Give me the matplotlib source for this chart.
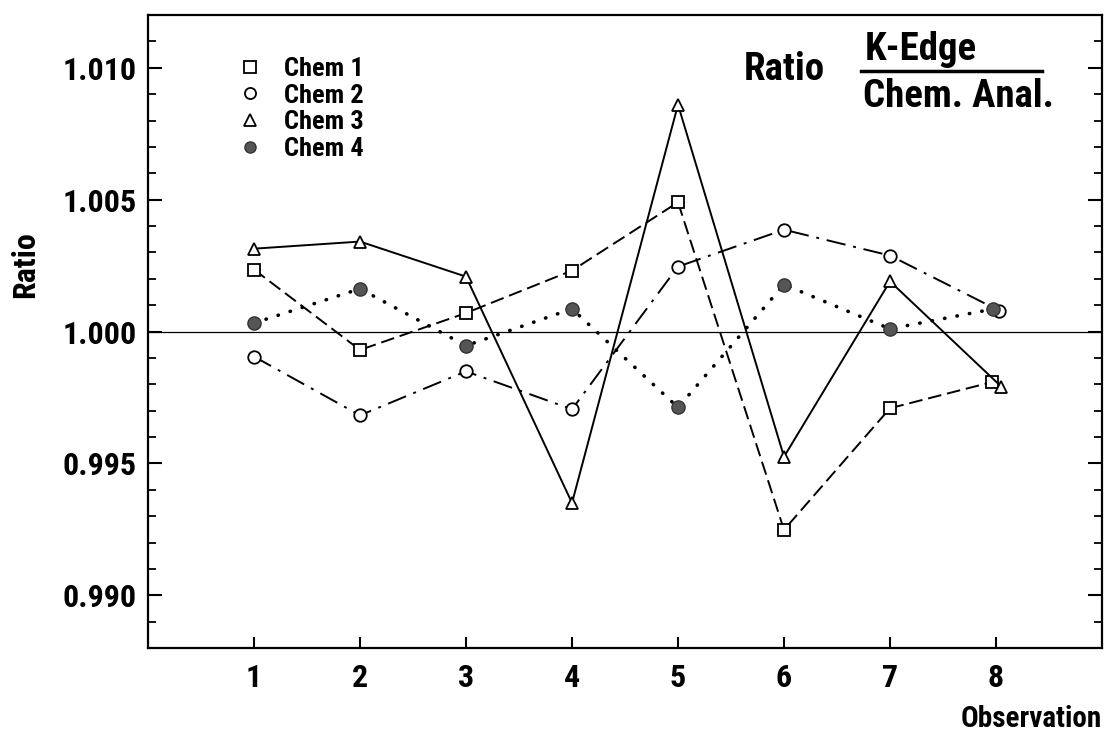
import matplotlib
matplotlib.use("Agg")
import matplotlib.pyplot as plt
import numpy as np
from matplotlib.lines import Line2D
from matplotlib import font_manager as fm

# observation numbers (point 8 is slightly staggered in the original)
obs = [1, 2, 3, 4, 5, 6, 7, 8]
obs_chem1 = [1, 2, 3, 4, 5, 6, 7, 7.96]
obs_chem2 = [1, 2, 3, 4, 5, 6, 7, 8.03]
obs_chem3 = [1, 2, 3, 4, 5, 6, 7, 8.05]
obs_chem4 = [1, 2, 3, 4, 5, 6, 7, 7.97]

# K-edge / chemical analysis ratios
chem1 = [1.00235, 0.99930, 1.00070, 1.00231, 1.00490, 0.99248, 0.99709, 0.99808]
chem2 = [0.99905, 0.99682, 0.99849, 0.99705, 1.00246, 1.00386, 1.00288, 1.00079]
chem3 = [1.00314, 1.00341, 1.00208, 0.99350, 1.00860, 0.99525, 1.00190, 0.99791]
chem4 = [1.00032, 1.00162, 0.99946, 1.00086, 0.99712, 1.00178, 1.00010, 1.00085]

labels = ["Chem 1", "Chem 2", "Chem 3", "Chem 4"]
yticks = [0.990, 0.995, 1.000, 1.005, 1.010]

W, H = 1105, 731
installed = {f.name for f in fm.fontManager.ttflist}
FONT = [f for f in ["Roboto Condensed", "Oswald", "Liberation Sans", "DejaVu Sans"] if f in installed]
plt.rcParams["font.family"] = FONT
plt.rcParams["font.weight"] = "bold"

fig = plt.figure(figsize=(W / 100, H / 100), dpi=100)
ax = fig.add_axes([148 / W, 1 - 648 / H, (1102 - 148) / W, (648 - 15) / H])

ax.axhline(1.0, color="black", lw=0.9, zorder=1)

mk = dict(markersize=9, markeredgecolor="black", markeredgewidth=1.3)
ax.plot(obs_chem1, chem1, color="black", lw=1.4, ls=(0, (7, 3)),
        marker="s", markerfacecolor="white", zorder=3, **mk)
ax.plot(obs_chem2, chem2, color="black", lw=1.4, ls=(0, (10, 4, 1.5, 4)),
        marker="o", markerfacecolor="white", zorder=3, **mk)
ax.plot(obs_chem3, chem3, color="black", lw=1.4, ls="-",
        marker="^", markerfacecolor="white", zorder=3, **mk)
ax.plot(obs_chem4, chem4, color="black", lw=2.6, ls=(0, (0.1, 3.4)),
        dash_capstyle="round", marker="o", markerfacecolor="#555555",
        markersize=9.5, markeredgecolor="#333333", markeredgewidth=1.0, zorder=3)

ax.set_xlim(0, 9)
ax.set_ylim(0.988, 1.012)
ax.set_xticks(obs)
ax.set_xticklabels([str(o) for o in obs])
ax.set_yticks(yticks)
ax.set_yticklabels([f"{v:.3f}" for v in yticks])
ax.set_yticks(np.arange(0.989, 1.0115, 0.001), minor=True)

ax.tick_params(axis="y", which="both", direction="in", left=True, right=True)
ax.tick_params(axis="y", which="major", length=10, width=1.5, pad=8, labelsize=23)
ax.tick_params(axis="y", which="minor", length=6, width=1.3)
ax.tick_params(axis="x", which="major", direction="in", length=8, width=1.5,
               pad=11, labelsize=23, top=False)
for lab in ax.get_xticklabels() + ax.get_yticklabels():
    lab.set_fontweight("bold")
for s in ax.spines.values():
    s.set_linewidth(1.6)

# legend: markers only
handles = [
    Line2D([], [], ls="none", marker="s", markerfacecolor="white", markeredgecolor="black", markersize=8, markeredgewidth=1.3),
    Line2D([], [], ls="none", marker="o", markerfacecolor="white", markeredgecolor="black", markersize=8, markeredgewidth=1.3),
    Line2D([], [], ls="none", marker="^", markerfacecolor="white", markeredgecolor="black", markersize=8, markeredgewidth=1.3),
    Line2D([], [], ls="none", marker="o", markerfacecolor="#555555", markeredgecolor="#333333", markersize=8),
]
fig.legend(handles, labels, loc="upper left", bbox_to_anchor=(237 / W, 1 - 57 / H),
           frameon=False, handlelength=1.0, handletextpad=0.79,
           labelspacing=0.1, borderpad=0, borderaxespad=0,
           prop=dict(family=FONT, weight="bold", size=19))

# axis labels
fig.text(1102 / W, 1 - 727 / H, "Observation", ha="right", va="baseline",
         fontsize=21, fontweight="bold")
fig.text(25 / W, 1 - 265 / H, "Ratio", ha="center", va="center", rotation=90,
         fontsize=23, fontweight="bold")

# ratio title
fig.text(784 / W, 1 - 80 / H, "Ratio", ha="center", va="baseline",
         fontsize=28, fontweight="bold")
fig.text(865 / W, 1 - 60 / H, "K-Edge", ha="left", va="baseline",
         fontsize=28, fontweight="bold")
fig.text(863 / W, 1 - 107 / H, "Chem. Anal.", ha="left", va="baseline",
         fontsize=28, fontweight="bold")
fig.add_artist(Line2D([861 / W, 1042 / W], [1 - 71 / H, 1 - 71 / H],
                      transform=fig.transFigure, color="black", lw=2.5))

fig.savefig("out.png", dpi=100)
